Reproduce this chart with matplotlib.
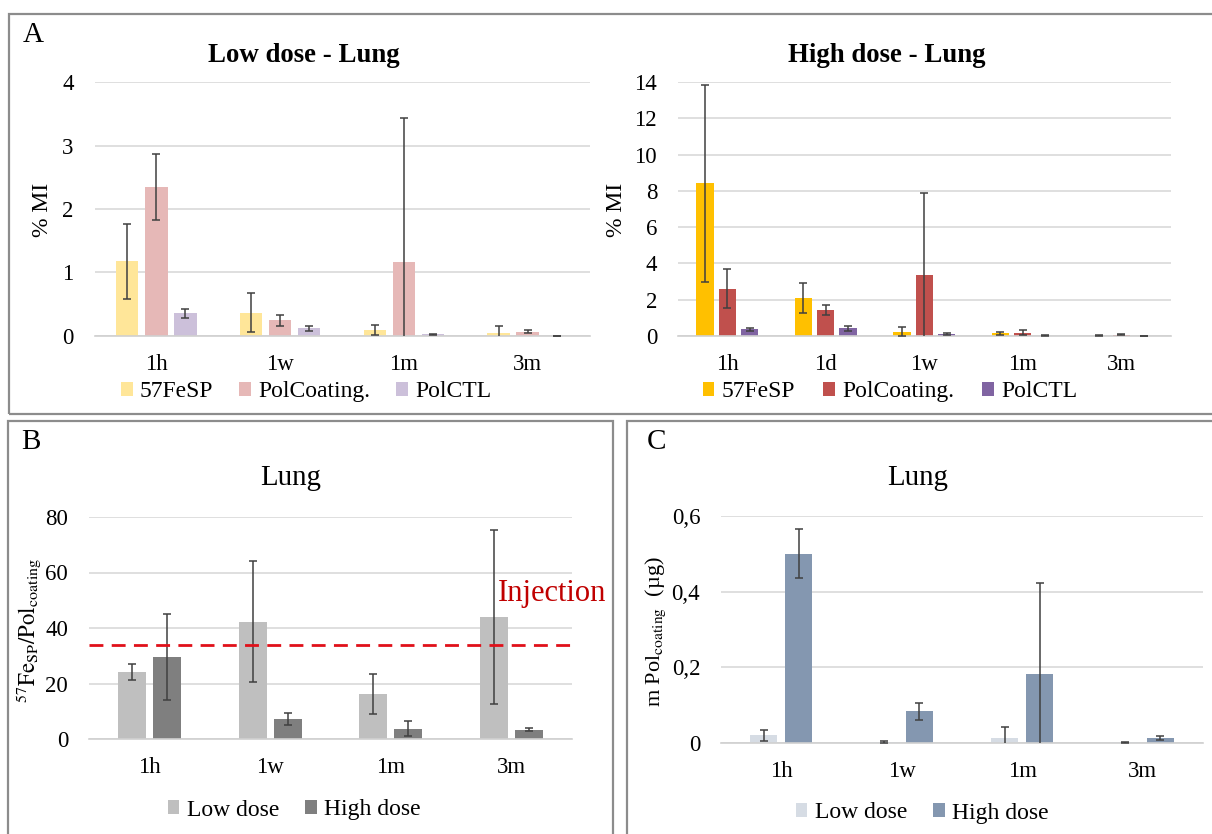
import matplotlib
matplotlib.use('Agg')
import matplotlib.pyplot as plt
from matplotlib.patches import Patch, Rectangle
import numpy as np

plt.rcParams['font.family'] = ['Liberation Serif', 'DejaVu Serif']
plt.rcParams['mathtext.fontset'] = 'stix'

# ---- data ----
low_times = ['1h', '1w', '1m', '3m']
high_times = ['1h', '1d', '1w', '1m', '3m']
series_names = ['57FeSP', 'PolCoating.', 'PolCTL']

low_fesp = [1.18, 0.37, 0.09, 0.04]
low_fesp_err = [0.59, 0.31, 0.08, 0.11]
low_polcoat = [2.35, 0.25, 1.16, 0.07]
low_polcoat_err = [0.52, 0.085, 2.28, 0.03]
low_polctl = [0.36, 0.12, 0.025, 0.0]
low_polctl_err = [0.07, 0.04, 0.01, 0.0]

high_fesp = [8.41, 2.08, 0.24, 0.15, 0.02]
high_fesp_err = [5.42, 0.83, 0.25, 0.09, 0.01]
high_polcoat = [2.61, 1.43, 3.36, 0.18, 0.08]
high_polcoat_err = [1.08, 0.27, 4.54, 0.14, 0.03]
high_polctl = [0.37, 0.42, 0.09, 0.02, 0.0]
high_polctl_err = [0.08, 0.13, 0.05, 0.01, 0.0]

ratio_low = [24.1, 42.2, 16.3, 44.0]
ratio_low_err = [3.0, 21.8, 7.3, 31.4]
ratio_high = [29.5, 7.3, 3.7, 3.4]
ratio_high_err = [15.6, 2.2, 2.7, 0.6]
injection_ratio = 34.0

mass_low = [0.020, 0.002, 0.013, 0.002]
mass_low_err = [0.014, 0.002, 0.028, 0.001]
mass_high = [0.50, 0.084, 0.182, 0.013]
mass_high_err = [0.065, 0.022, 0.242, 0.006]

W, H = 1212, 834
fig = plt.figure(figsize=(W / 100, H / 100), dpi=100)


def px_axes(x0, y0, x1, y1):
    return fig.add_axes([x0 / W, 1 - y1 / H, (x1 - x0) / W, (y1 - y0) / H])


def style_axis(ax, ymax, ticks, labels=None):
    ax.set_ylim(0, ymax)
    ax.set_yticks(ticks)
    if labels is not None:
        ax.set_yticklabels(labels)
    ax.grid(axis='y', color='#D9D9D9', linewidth=1.2)
    ax.set_axisbelow(True)
    for s in ['top', 'right', 'left']:
        ax.spines[s].set_visible(False)
    ax.spines['bottom'].set_color('#D0D0D0')
    ax.spines['bottom'].set_linewidth(1.2)
    ax.tick_params(length=0, labelsize=16.5)
    ax.tick_params(axis='y', pad=15)
    ax.tick_params(axis='x', pad=13)


def grouped(ax, cats, vals, errs, colors, width, stride):
    x = np.arange(len(cats))
    n = len(vals)
    for i in range(n):
        off = (i - (n - 1) / 2) * stride
        ax.bar(x + off, vals[i], width, color=colors[i], zorder=2)
        ax.errorbar(x + off, vals[i], yerr=errs[i], fmt='none', ecolor='#404040',
                    elinewidth=1.1, capsize=2.6, capthick=1.1, zorder=3)
    ax.set_xticks(x)
    ax.set_xticklabels(cats)
    ax.set_xlim(-0.5, len(cats) - 0.5)


def legend_at(names, colors, cx, cy, fs=17, spacing=1.1):
    handles = [Patch(facecolor=c, edgecolor='none') for c in colors]
    fig.legend(handles, names, loc='center', bbox_to_anchor=(cx / W, 1 - cy / H),
               ncol=len(names), frameon=False, fontsize=fs, handlelength=0.5,
               handleheight=0.55, handletextpad=0.3, columnspacing=spacing,
               borderaxespad=0, borderpad=0)


# ---- panel A, low dose ----
low_colors = ['#FFE699', '#E6B8B7', '#CCC0DA']
ax1 = px_axes(94.5, 82, 589.5, 336)
grouped(ax1, low_times, [low_fesp, low_polcoat, low_polctl],
        [low_fesp_err, low_polcoat_err, low_polctl_err], low_colors, 0.18, 0.235)
style_axis(ax1, 4, [0, 1, 2, 3, 4])
fig.text(43 / W, 1 - 210 / H, '% MI', rotation=90, ha='center', va='center', fontsize=17)
fig.text(304 / W, 1 - 55 / H, 'Low dose - Lung', ha='center', va='center',
         fontsize=19.3, fontweight='bold')
legend_at(series_names, low_colors, 306, 392, spacing=1.1)

# ---- panel A, high dose ----
high_colors = ['#FFC000', '#C0504D', '#8064A2']
ax2 = px_axes(678, 82, 1170.5, 336)
grouped(ax2, high_times, [high_fesp, high_polcoat, high_polctl],
        [high_fesp_err, high_polcoat_err, high_polctl_err], high_colors, 0.175, 0.226)
style_axis(ax2, 14, [0, 2, 4, 6, 8, 10, 12, 14])
fig.text(616 / W, 1 - 210 / H, '% MI', rotation=90, ha='center', va='center', fontsize=17)
fig.text(887 / W, 1 - 55 / H, 'High dose - Lung', ha='center', va='center',
         fontsize=19.3, fontweight='bold')
legend_at(series_names, high_colors, 890, 392, spacing=1.2)

# ---- panel B ----
b_colors = ['#BFBFBF', '#7F7F7F']
ax3 = px_axes(89, 517, 572, 739)
grouped(ax3, low_times, [ratio_low, ratio_high], [ratio_low_err, ratio_high_err],
        b_colors, 0.23, 0.29)
style_axis(ax3, 80, [0, 20, 40, 60, 80])
ax3.axhline(injection_ratio, color='#E0101A', linewidth=2, dashes=(5, 3), zorder=4)
fig.text(498 / W, 1 - 593 / H, 'Injection', color='#C00000', ha='left', va='center',
         fontsize=22)
fig.text(29 / W, 1 - 630 / H, r'$^{57}\mathrm{Fe}_{\mathrm{SP}}/\mathrm{Pol}_{\mathrm{coating}}$',
         rotation=90, ha='center', va='center', fontsize=16.5)
fig.text(291 / W, 1 - 478 / H, 'Lung', ha='center', va='center', fontsize=20.8)
legend_at(['Low dose', 'High dose'], b_colors, 294, 810, spacing=1.1)

# ---- panel C ----
c_colors = ['#D6DCE4', '#8497B0']
ax4 = px_axes(721, 516, 1203, 743)
grouped(ax4, low_times, [mass_low, mass_high], [mass_low_err, mass_high_err],
        c_colors, 0.225, 0.29)
style_axis(ax4, 0.6, [0, 0.2, 0.4, 0.6], ['0', '0,2', '0,4', '0,6'])
fig.text(656 / W, 1 - 632 / H, r'm Pol$_{\mathrm{coating}}$  (µg)', rotation=90,
         ha='center', va='center', fontsize=16)
fig.text(918 / W, 1 - 478 / H, 'Lung', ha='center', va='center', fontsize=20.8)
legend_at(['Low dose', 'High dose'], c_colors, 922, 813, spacing=1.1)

# ---- panel letters and boxes ----
fig.text(33 / W, 1 - 35 / H, 'A', ha='center', va='center', fontsize=21)
fig.text(31 / W, 1 - 442 / H, 'B', ha='center', va='center', fontsize=21)
fig.text(657 / W, 1 - 442 / H, 'C', ha='center', va='center', fontsize=21)

for (x0, y0, x1, y1) in [(9, 14, 1216, 414), (8, 421, 613, 840), (627, 421, 1220, 840)]:
    fig.patches.append(Rectangle((x0 / W, 1 - y1 / H), (x1 - x0) / W, (y1 - y0) / H,
                                 transform=fig.transFigure, fill=False,
                                 edgecolor='#8C8C8C', linewidth=1.6, zorder=0))

fig.savefig('out.png', dpi=100)
